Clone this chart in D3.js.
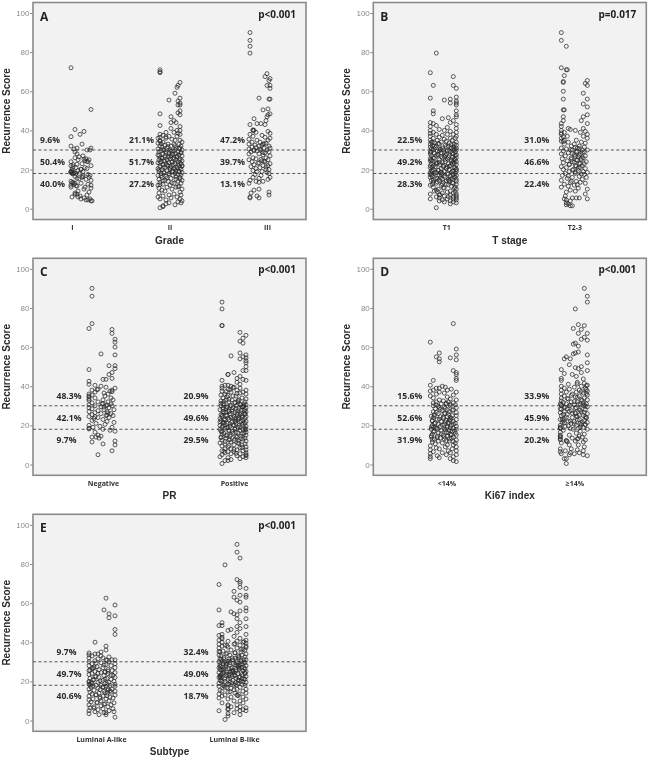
<!DOCTYPE html>
<html>
<head>
<meta charset="utf-8">
<script src="https://cdn.jsdelivr.net/npm/d3@7"></script>
<style>
  html, body { margin: 0; padding: 0; background: #fff; }
  svg { display: block; filter: blur(0.35px); }
  .frame { fill: #f2f2f2; stroke: #8a8a8a; stroke-width: 1.6; }
  .cutoff { stroke: #555; stroke-width: 1; stroke-dasharray: 3 2.4; }
  .dot { fill: none; stroke: #2a2a2a; stroke-width: 0.95; stroke-opacity: 0.8; }
  .yaxis text { font: 8px "Liberation Sans", sans-serif; fill: #8a8a8a; }
  .yaxis line { stroke: #8a8a8a; }
  .yaxis path { display: none; }
  .xaxis text { font: bold 7px "Open Sans", sans-serif; fill: #333; }
  .xaxis line, .xaxis path { display: none; }
  .title { font: bold 10px "Liberation Sans", sans-serif; fill: #2a2a2a; text-anchor: middle; }
  .pct { font: bold 8.6px "Open Sans", sans-serif; fill: #2a2a2a; }
  .letter { font: bold 12px "Open Sans", sans-serif; fill: #222; }
  .pval { font: bold 10px "Open Sans", sans-serif; fill: #222; text-anchor: end; }
</style>
</head>
<body>
<svg id="chart" width="650" height="762"></svg>
<script>
// values, dense parts are estimates
const gradeIScores = [72,50.7,40.5,39.5,38,36.8,32,31,33,30.5,30,30,31,29,28,27,26.5,26,25.5,25,
  25,24.5,24,24,23,22.5,22,22,21,21,20.5,20,20,19.5,19,19,18.5,18.5,18,18,
  18,17.5,17,17,16.5,16,16,15.5,15,14.5,14,13.5,13,13,12.5,12,12,11.5,11,11,
  10.5,10,9,8.5,8,7.5,7,6.5,6,6,5.5,5,5,4.5,4.5,4,4,
  25.3,24.2,22.7,21.4,20.2,19.2,18.3,18.7,17.8,16.3,15.2,13.2,12.4,11.8,7.3];
const gradeIJitter = [-9,11,-5,4,0,-9,-9,-3,2,-6,10,7,11,-5,-3,3,-1,-5,6,9,
  -2,5,-9,8,2,-7,-9,11,-4,5,7,-8,1,-2,-9,3,-9,-6,-8,-4,
  -1,8,10,3,-5,2,9,-3,6,11,-9,-7,-5,1,8,-9,11,-3,-9,5,
  11,4,-2,9,-5,-3,7,0,-8,-2,4,1,10,6,8,11,12,
  4,7,-3,-7,1,-8,-6,-9,-7,3,-1,-8,-6,-4,-5];

const gradeIIScores = [71,70,69.5,64.5,63,62,59,56.5,55.5,55,54,53,53,50,49,48.5,48,47,45,44,
  44,42.5,42,41,40,40,39,39,38.5,38,38,37.5,37,37,36.5,36,36,35.5,35,35,
  34.5,34,34,33.5,33,33,33,32.5,32,32,32,31.5,31,31,31,30.5,30,30,30,30,
  29.5,29.5,29,29,29,28.5,28.5,28,28,28,27.5,27.5,27,27,27,26.5,26.5,26,26,26,
  25.5,25.5,25,25,25,24.5,24.5,24,24,24,23.5,23.5,23,23,23,22.5,22.5,22,22,22,
  21.5,21.5,21,21,21,20.5,20.5,20,20,20,19.5,19.5,19,19,19,18.5,18.5,18,18,18,
  17.5,17,17,16.5,16,16,15.5,15,15,14.5,14.5,14,14,13.5,13,13,12.5,12,12,11.5,
  11,11,10.5,10,10,9.5,9,8.5,8,7.5,7,7,6.5,6,6,5.5,5,5,4.5,4,
  3.5,3,3,2.5,2,1.5,1,0.5,
  33.3,32.2,31.7,30.8,30.2,29.3,28.8,28.2,27.7,27.2,26.8,26.3,25.8,25.2,24.8,24.3,23.8,23.2,22.8,22.3,
  21.8,21.2,20.8,20.3,19.8,19.2,18.8,18.3,17.8,17.3,16.8,16.3,15.7,15.2,14.2,13.2,12.3,11.2,36.7,34.7];
const gradeIIJitter = [-10,-10,-10,10,8,7,5,10,-1,8,10,8,10,10,8,-10,10,1,4,1,
  6,-10,10,1,7,10,-4,4,8,-10,10,-7,-1,7,-10,-4,-12,2,5,10,
  -10,-7,12,-12,-2,4,9,-5,-10,1,11,-8,-3,6,10,-12,-6,0,5,12,
  -9,3,-11,-4,8,-1,11,-7,2,6,-12,9,-5,1,12,-2,7,-10,4,-8,
  0,10,-11,-3,6,-6,12,2,-9,8,-1,-12,5,11,-4,3,-7,9,-2,12,
  -10,1,-5,7,10,-12,4,-8,0,11,-3,6,-11,2,9,-6,12,-1,-9,5,
  8,-12,3,-4,10,-8,1,-11,6,12,-5,-2,8,-10,4,11,-7,0,-12,9,
  -3,6,-11,2,12,-8,-5,10,-11,4,-1,11,-7,-12,7,1,-10,10,-4,12,
  8,-1,11,-4,5,-7,-7,-10,
  -9,5,-2,9,-7,1,11,-4,3,-11,7,-1,-8,4,10,-5,2,-10,8,-3,
  12,-7,0,5,-11,3,9,-6,-1,11,-9,6,-3,10,-7,2,-10,8,-4,-10];

const gradeIIIScores = [90,86,83,79.5,69,67.5,66.5,65.5,63,63,61.5,56.5,56,56,51,50.5,48.5,48,47,46,
  45,43,43.5,43.5,43,40,40,39.5,39,38.5,38,37.5,37,36.5,36,35.5,35,35,34,34,
  33.5,33,33,32.5,32,32,31.5,31,31,30.5,30,30,30,29.5,29,29,28.5,28,28,27.5,
  27,26,26,25.5,25,25,24.5,24,24,23.5,23,22.5,22,22,21.5,21,20.5,20,20,19.5,
  19,19,18.5,18,17.5,17,16,16,15.5,15,14.5,14,14,13.5,13,10,9.5,8.5,8,7,
  6.5,6,5.5,5.5,
  32.4,31.2,30.4,29.7,28.7,25.2,24.3,23.2,21.3,40.3,33.2];
const gradeIIIJitter = [-10,-10,-10,-10,7,5,10,9,7,10,10,-1,9,10,8,3,10,8,7,-6,
  6,-10,-3,1,5,-6,-7,8,-4,10,-10,2,-7,5,10,-11,-3,8,-8,0,
  6,-11,3,-5,9,-1,-8,4,10,-11,-6,1,7,-3,-9,9,5,-11,-1,3,
  10,-7,6,-4,-11,8,2,-8,5,-1,10,-6,3,8,-9,0,-4,6,9,-7,
  2,-3,7,9,-5,1,10,-7,-1,8,-10,-4,3,-1,-11,-1,-6,9,-9,9,
  -3,-10,-10,-1,
  2,-4,0,-6,3,1,4,-2,6,-7,4];

const t1Scores = [79.5,69.5,67.5,63,63,61.5,57,56.5,56,55.5,55,54,54,53,50,50,48.5,48,47,46.5,
  46,45,44,44,43.5,43,42.5,42,41.5,41,40.5,40,40,39.5,39,39,38.5,38,38,38,
  37.5,37,37,36.5,36,36,36,35.5,35,35,35,34.5,34,34,34,34,33.5,33,33,33,
  32.5,32.5,32,32,32,31.5,31.5,31,31,31,30.5,30.5,30,30,30,30,29.5,29.5,29,29,
  29,28.5,28.5,28,28,28,27.5,27.5,27,27,27,26.5,26.5,26,26,26,25.5,25.5,25,25,
  25,24.5,24.5,24,24,24,23.5,23.5,23,23,23,22.5,22.5,22,22,22,21.5,21.5,21,21,
  21,20.5,20.5,20,20,20,19.5,19.5,19,19,19,18.5,18.5,18.5,18,18,18,18,17.5,17.5,
  17,17,16.5,16.5,16,16,16,15.5,15.5,15,15,15,14.5,14.5,14,14,13.5,13.5,13,13,
  12.5,12.5,12,12,11.5,11,11,10.5,10.5,10,10,9.5,9,9,8.5,8.5,8,8,7.5,7.5,
  7,7,6.5,6.5,6,6,5.5,5.5,5,5,5,4.5,4.5,4,4,3.5,3.5,3,2.5,0.5,
  33.3,32.8,32.2,31.7,31.2,30.7,30.2,29.8,29.2,28.7,28.2,27.8,27.2,26.7,26.2,25.7,25.2,24.8,24.2,23.7,
  23.2,22.8,22.2,21.7,21.2,20.7,20.2,19.7,19.2,18.7,18.2,17.7,17.2,16.7,16.2,15.7,15.2,14.7,14.2,13.7,
  13.2,12.7,12.2,33.7,30.9,29.4,27.4,25.4,23.4,21.4,19.4,18.4,17.4,15.4,14.4,12.4,10.7,8.7,7.2,6.2];
const t1Jitter = [-7,-13,10,-10,10,13,13,-13,7,1,13,7,13,13,-10,13,-10,13,13,5,
  -1,10,7,-13,-10,13,-7,-13,4,13,-4,-13,1,7,-10,13,-13,-7,4,10,
  -1,-13,13,-4,-10,7,12,1,-13,-6,9,3,-11,-2,13,-12,6,-4,11,-13,
  2,13,-7,5,-9,10,-13,-1,8,13,-3,-12,0,11,-10,13,4,-6,-13,7,
  12,-2,-9,10,-13,3,13,-5,6,-12,-7,1,9,-10,13,-1,-13,4,-4,12,
  8,-13,-11,10,2,13,-6,-1,-12,5,9,-3,13,7,-13,-10,0,-8,12,11,
  -13,3,-2,6,13,-10,-12,-5,10,1,13,-7,-13,8,-1,-9,4,12,-13,10,
  -4,13,7,-11,2,-13,12,-6,9,5,-1,13,-12,-4,6,13,-10,0,10,-7,
  13,3,-2,-13,8,-10,12,1,11,-5,13,-7,7,-9,4,12,-1,10,-13,13,
  -4,7,1,13,-7,10,-4,13,-13,4,10,-1,13,7,-4,10,1,13,7,-7,
  -5,8,-11,3,-8,11,-3,6,-12,1,9,-6,12,-2,5,-9,2,-12,8,-4,
  11,-7,0,6,-11,3,13,-5,9,-2,-8,5,-12,1,11,-3,7,-10,3,-6,
  9,-1,5,-9,8,-4,2,11,-7,4,-11,-3,-2,-8,6,-11,0,-6,-3,5];

const t23Scores = [90,86,83,72,71,71,68,65.5,65,64.5,64,63,60,59,56,56,53.5,52,50.5,50.5,
  48,47,47,45,45,43.5,43.5,42,41,41,40.5,40,40,39.5,39,39,38,38,37,37,
  36,36,35,35,34.5,34,34,33.5,33,33,32,32,31.5,31,31,30.5,30,30,30,29.5,
  29,29,28.5,28,28,27.5,27,27,26.5,26,26,25.5,25,25,24.5,24,24,23.5,23,23,
  22.5,22,22,21.5,21,21,20.5,20,20,19.5,19,19,18.5,18,18,17.5,17,16.5,16,16,
  15.5,15,14.5,14,14,13.5,13,12.5,12,11.5,11,10.5,10,9.5,9,8.5,7.5,6.5,5.5,5.5,
  5.5,5,5,4.5,4,3,2.5,2,1.5,1.5,
  31.3,30.7,30.2,29.3,28.7,28.2,27.3,26.7,25.7,25.2,24.7,23.7,23.2,22.7,21.7,20.7,19.7,18.7,17.7,16.7,
  34.3,36.7,38.7,13.3,12.3];
const t23Jitter = [-12,-12,-7,-12,-7,-6,-9,14,-10,-10,12,14,-10,10,-10,14,10,14,-10,-9,
  14,10,-10,-10,8,-12,14,-12,-5,10,-3,-12,2,12,-9,7,-12,14,-6,10,
  -12,14,-9,3,-12,8,-5,12,-9,1,6,-2,11,-12,4,-7,9,-1,14,-10,
  3,11,-5,7,-12,1,12,-8,5,-2,10,-11,3,8,-6,13,-1,-10,6,11,
  -4,2,9,-12,7,-7,12,0,-10,5,10,-4,14,-8,2,11,-11,6,-1,13,
  -6,9,-12,3,-2,7,12,-9,1,-5,-12,5,14,-3,2,-7,12,-8,-1,3,
  6,14,-9,-7,-3,-7,-5,-7,-3,-1,
  2,6,-3,4,9,-1,6,2,8,-2,4,1,7,-4,3,5,-1,2,8,-5,
  -10,-10,-12,-3,4];

const negScores = [90,86,72,69.5,69,67,64,62.5,60,56.5,56,50.5,50.5,49,48.5,47,46,43.5,43.5,44,
  42.5,41,39,38,40.5,40,39.5,38.5,38,37.5,37,36.5,36,36,35.5,35,35,34.5,34,34,
  33.5,33,33,32,32,31.5,31,31,30.5,30,30,30,29.5,29,29,28.5,28,28,27.5,27,
  27,26.5,26,26,25.5,25,25,24.5,24,24,23.5,23,22.5,22,21.5,21,20.5,20,19.5,19,
  19,18.5,18,17.5,17,16.5,15,14.5,14,14,13.5,12,11.5,10.5,10,7,5,
  31.2,30.4,29.3,26.3,25.3,38.2,37.2,24.4,18.2,32.7];
const negJitter = [-10,-10,-10,-13,10,10,13,13,13,-1,13,7,13,13,-13,10,7,4,1,10,
  -13,-13,13,10,-7,-1,4,-4,-10,8,-7,2,-13,6,-10,-13,3,-13,-7,9,
  -13,1,11,-4,6,-10,0,9,-13,-7,4,10,-1,-13,7,-10,2,12,-4,-13,
  5,-7,9,-1,-10,4,11,-13,-4,7,-8,1,-10,5,12,-6,3,-13,-2,10,
  -9,-13,1,8,13,-7,-4,-1,-10,-6,-3,13,-10,1,13,10,-4,
  1,5,2,6,5,-5,10,-7,-13,-13];

const posScores = [83,79.5,71,71,67.5,66,64.5,63,62,57,56,55.5,55,54.5,54,53,52,50,48,48,
  47,46,46,45,44,43.5,43,43,42,41,40.5,40.5,40,40,39.5,39,39,38.5,38,38,
  37.5,37,37,36.5,36,36,35.5,35,35,34.5,34,34,33.5,33,33,33,32.5,32,32,32,
  31.5,31,31,31,30.5,30.5,30,30,30,29.5,29.5,29,29,29,28.5,28.5,28,28,28,27.5,
  27.5,27,27,27,26.5,26.5,26,26,26,25.5,25.5,25,25,25,24.5,24.5,24,24,24,23.5,
  23.5,23,23,23,22.5,22.5,22,22,22,21.5,21.5,21,21,21,20.5,20.5,20,20,20,19.5,
  19.5,19,19,19,18.5,18.5,18,18,18,18,17.5,17.5,17,17,16.5,16.5,16,16,16,15.5,
  15,15,14.5,14.5,14,14,13.5,13.5,13,13,12.5,12.5,12,12,11.5,11,11,10.5,10.5,10,
  10,9.5,9,9,8.5,8,8,7.5,7.5,7,7,6.5,6.5,6,6,5.5,5.5,5,5,4.5,
  4.5,4,4,3.5,3.5,3,2.5,2,2,0.5,
  33.3,32.7,32.2,31.7,31.2,30.8,30.2,29.8,29.2,28.7,28.2,27.7,27.2,26.8,26.2,25.7,25.2,24.7,24.2,23.7,
  23.2,22.7,22.2,21.7,21.2,20.7,20.2,19.7,19.2,18.7,18.2,17.7,17.2,16.7,16.2,15.7,15.2,14.7,14.2,13.7,
  13.2,12.7,12.2,11.7,10.7,9.7,8.7,7.7,6.7,5.7,35.3,36.3,37.2,38.2,39.2,29.4,27.4,25.4,23.4,21.4];
const posJitter = [-11,-11,-11,-11,7,13,10,7,10,7,13,-2,10,13,7,13,13,13,13,10,
  1,-5,-5,7,4,10,-11,13,4,7,-8,-5,-11,-2,1,-11,7,-5,13,4,
  -11,-2,10,7,-8,13,-12,0,3,-6,9,-10,13,-7,-1,6,-12,5,12,-4,
  2,-10,11,-9,8,13,-3,-12,3,9,-6,13,-10,0,-7,6,12,-1,-13,5,
  11,-4,13,-10,-9,2,8,-3,12,-12,4,-6,9,-7,13,-11,0,6,-2,-13,
  12,5,-4,-9,10,-12,2,13,8,-1,-10,3,-6,12,-8,9,-13,1,6,13,
  -3,-11,-5,5,12,-8,10,-13,2,13,7,-4,-1,-12,13,3,-9,11,0,-11,
  13,-6,8,-3,-12,4,12,-7,10,2,-11,-4,13,6,-2,-13,5,-8,12,9,
  1,-11,-5,13,7,-2,-8,13,4,-11,10,-5,1,13,-8,7,-2,13,-11,4,
  13,10,-13,13,-5,7,-2,-8,-5,-11,
  -4,5,-9,2,-12,7,-2,11,-6,3,-10,8,-1,-7,4,12,-11,1,9,-5,
  6,-8,3,-13,10,-3,0,-10,7,-6,2,12,-4,-11,5,9,-2,-7,3,-12,
  8,-3,1,-8,6,-4,9,1,-9,3,-5,4,-7,-3,0,10,-4,7,2,-9];

const lowKiScores = [72,62.5,59,57,56,55,54.5,54,53.5,52.5,48,47,46,44,43,43,40.5,40,39.5,39,
  39,38.5,38,38,37.5,37,37,36.5,36,35.5,35,34.5,34,33.5,33,33,32.5,32,32,31.5,
  31.5,31,31,30.5,30.5,30,30,29.5,29,29,28.5,28,28,27.5,27,27,26.5,26,26,25.5,
  25,25,24.5,24.5,24,24,23.5,23,23,22.5,22.5,22,22,21.5,21,21,20.5,20.5,20,20,
  19.5,19.5,19,19,18.5,18.5,18,18,18,17.5,17.5,17,17,16.5,16,16,15.5,15.5,15,15,
  14.5,14.5,14,14,13.5,13.5,13,13,12.5,12,12,11.5,11,11,10.5,10,10,9.5,9,9,
  8.5,8,8,7.5,7,7,6.5,6,6,5.5,5,5,4.5,4,4,3.5,3,3,2,1.5,
  31.3,30.7,29.7,28.7,27.7,26.7,25.7,24.7,24.2,23.7,23.2,22.7,22.2,21.7,21.2,20.7,20.2,19.7,19.2,18.7,
  18.2,17.7,17.2,16.7,16.2,15.7,15.2,14.7,14.2,13.7,13.2,12.7,12.2,11.7,28.2,26.2,24.9,22.9,20.9,18.9];
const lowKiJitter = [10,-13,13,-4,13,-7,7,-4,13,-4,10,13,13,13,13,-10,-13,-1,2,-4,
  -7,8,-10,4,-13,-4,13,1,-7,10,-13,4,-10,7,-4,13,0,-7,5,-10,
  10,-2,3,-7,12,-10,7,1,-4,13,-8,4,10,-1,-10,6,13,-5,2,-9,
  9,13,-3,4,-10,7,0,13,-6,3,-11,10,-2,5,-9,12,1,-5,8,-11,
  13,-3,4,-10,10,-7,1,13,-12,6,-2,-9,9,3,-5,12,-11,7,0,13,
  -6,4,-12,10,-3,8,-9,1,13,-5,6,-11,12,-1,-8,4,10,-13,2,13,
  -7,9,-4,-13,5,13,-10,-1,7,-13,3,13,-6,-13,10,-4,-13,7,10,13,
  3,7,-5,2,9,-7,5,-12,0,8,-4,6,-11,2,-8,10,-1,4,-12,7,
  -6,2,11,-10,5,-2,8,-12,1,-6,6,-11,3,10,-3,1,-9,7,5,-8];

const highKiScores = [90,86,83,79.5,71.5,71,69.5,69,67,67,65,64,63.5,62,61.5,60.5,57.5,57,56.5,56,
  55,54,54,52,51,50,49.5,49,48.5,48,47,46.5,46,45,44,43,42,41.5,41,40.5,
  40,40,39.5,39,39,38.5,38,38,37.5,37,37,36.5,36,36,35.5,35,35,34.5,34,34,
  33.5,33,33,32.5,32,32,31.5,31,31,31,30.5,30.5,30,30,30,29.5,29,29,28.5,28,
  28,27.5,27,27,26.5,26,26,25.5,25,25,24.5,24,24,23.5,23,23,22.5,22,22,21.5,
  21.5,21,21,20.5,20,20,19.5,19,19,18.5,18.5,18,18,17.5,17,16.5,16,15.5,15,15,
  14.5,14,14,13.5,13,13,12.5,12,12,11.5,11,10,10,9,8,8,7.5,7,7,6.5,
  6,6,5.5,5.5,5,5,4.5,3,3,0.5,
  34.3,33.7,32.7,32.2,31.7,30.8,30.2,29.8,29.3,28.7,28.2,27.7,27.2,26.7,26.2,25.7,25.2,24.7,24.2,23.7,
  23.2,22.7,22.2,21.7,21.2,20.7,20.2,19.7,19.2,18.7,38.3,37.3,36.3,35.3,14.3,13.3,12.3,30.4,28.4,26.4,
  24.4,22.4,20.4,18.4,40.3,41.2,43.7,12.7,11.7,30.6];
const highKiJitter = [11,14,14,2,5,11,0,8,14,5,11,8,14,2,0,5,5,2,0,14,
  -7,-9,-3,14,-4,8,2,5,-12,14,8,-9,-1,3,-12,-12,4,11,-5,14,
  -12,8,1,-9,12,-4,-12,6,14,-7,3,10,-12,-1,14,-9,6,2,-12,11,
  -5,8,14,-12,-2,4,10,-13,-7,13,1,7,-12,-4,10,14,-9,3,-13,6,
  12,-2,-9,8,-13,2,14,-6,10,-12,4,-1,13,-9,6,-13,11,1,-5,14,
  -11,7,-2,12,-13,3,-8,10,-13,5,-13,14,0,-10,7,-13,3,11,-4,-13,
  6,-13,9,-1,-13,4,12,-7,2,10,-12,5,-4,11,-13,-2,4,10,-8,-13,
  -3,6,-12,1,10,-4,14,-9,-7,-7,
  4,-6,9,1,-10,5,-3,12,-8,2,-12,7,-4,11,-1,-10,6,3,-7,13,
  -11,4,-3,9,-9,1,12,-5,7,-13,13,8,13,-2,-13,5,-7,11,-6,2,
  12,-10,8,-3,13,4,10,-13,-6,-12];

const lumAScores = [62.5,59,56.5,54.5,53.5,52.5,46.5,44,40,38,36,35,34.5,34,34,33.5,33,33,32.5,32,
  32,31.5,31,31,31,30.5,30,30,29.5,29,29,28.5,28,28,27.5,27,27,26.5,26,26,
  25.5,25.5,25,25,24.5,24.5,24,24,23.5,23,23,22.5,22,22,21.5,21.5,21,21,20.5,20,
  20,19.5,19.5,19,19,18.5,18.5,18,18,18,17.5,17.5,17,17,16.5,16,16,15.5,15.5,15,
  15,14.5,14.5,14,14,13.5,13,13,12.5,12.5,12,12,11.5,11,11,10.5,10,10,9.5,9,
  9,8.5,8,8,7.5,7,7,6.5,6,6,5.5,5,5,4.5,4.5,4,4,3.5,3,3,1.7,
  30.7,29.3,28.3,26.7,25.2,24.2,23.2,22.3,21.2,20.3,19.2,18.7,18.2,17.7,17.2,16.2,15.7,15.2,14.2,13.2,
  19.7,20.7,24.7,25.7,27.3,12.7,11.3,9.3,8.3,6.3];
const lumAJitter = [4,13,2,7,13,7,13,13,-7,4,4,-1,-13,-7,-4,-13,-10,-1,7,-13,
  1,-4,4,10,13,-7,-13,7,-1,13,-10,4,-13,9,-5,1,13,-10,-3,6,
  -13,10,-7,3,13,-1,-10,6,-13,2,11,-6,13,-3,-12,5,9,-8,1,-13,
  12,-4,7,-10,3,13,-13,-1,8,-6,4,13,-11,1,-4,10,-13,6,-8,13,
  2,-12,9,-3,5,-10,13,-6,1,-13,8,-2,11,-9,4,-13,7,-1,-11,12,
  -5,3,-13,9,-1,-8,6,-12,11,1,-4,-13,7,12,-7,2,4,-13,-3,4,13,
  5,-6,2,-9,6,-4,9,-7,3,-2,-11,5,-12,-9,1,6,-2,8,3,-6,
  -13,-9,3,-12,-8,5,-2,-5,2,-8];

const lumBScores = [90,86,83,79.5,72,71,70,69.5,68,67.5,66,64,64,63,63,61.5,60.5,57.5,56.5,56,
  56,55.5,54.5,54,52,52,50,50,48.5,48.5,48,48,47,46.5,46,45,44,44,43.5,43,
  42.5,42,41,41,40.5,40.5,40,40,39.5,39,39,38.5,38.5,38,38,37.5,37,37,36.5,36,
  36,35.5,35,35,34.5,34.5,34,34,33.5,33.5,33,33,32.5,32,32,31.5,31.5,31,31,31,
  30.5,30.5,30,30,30,29.5,29.5,29,29,29,28.5,28.5,28,28,28,27.5,27.5,27,27,27,
  26.5,26.5,26,26,26,25.5,25.5,25,25,25,24.5,24.5,24,24,24,23.5,23.5,23,23,23,
  22.5,22.5,22,22,22,21.5,21.5,21,21,20.5,20.5,20,20,20,19.5,19.5,19,19,18.5,18.5,
  18,18,18,17.5,17,17,16.5,16,16,15.5,15,15,14.5,14,14,13.5,13.5,13,13,12.5,
  12,12,11.5,11,11,10,10,9,9,8,8,7.5,7,7,6.5,6,6,5.5,5.5,5,
  5,5,4,3.5,3,2.3,0.5,
  33.3,32.7,32.2,31.7,31.2,30.8,30.2,29.8,29.2,28.7,28.2,27.7,27.2,26.7,26.2,25.7,25.2,24.7,24.2,23.7,
  23.2,22.7,22.2,21.7,21.2,20.7,20.2,19.7,19.2,18.7,18.2,17.7,35.3,36.3,37.3,38.3,39.3,40.3,30.4,28.4,
  26.4,24.4,22.4,20.4,29.4,27.4,25.4,23.4,21.4,19.4,16.7,15.7,14.7,12.7,41.7,34.7,31.4,26.9,24.9,22.9];
const lumBJitter = [4,4,7,-8,4,7,7,-14,7,13,1,13,7,13,1,4,7,13,-14,13,
  7,-2,1,4,4,13,-11,7,-14,-11,13,4,7,-2,-5,4,-11,13,-14,1,
  -11,7,13,-14,-5,4,-11,10,13,-14,1,-8,7,-11,13,-5,-14,4,10,-2,
  12,-10,-13,8,-6,2,13,-7,-14,9,5,-12,12,-1,6,-13,-4,11,0,13,
  -11,3,-14,-9,8,12,-3,-10,9,-6,-13,2,5,13,-7,-12,6,-14,11,-1,
  12,-4,-11,3,-13,0,10,13,-9,-3,-14,8,-10,5,12,-6,9,-13,2,-7,
  13,-1,-12,6,-14,3,11,-5,12,0,-13,-8,-11,8,13,-3,5,-14,9,-4,
  -10,12,1,-14,7,-8,-2,13,4,-13,-11,10,-5,2,13,-14,6,-8,4,-11,
  10,-2,-14,13,-5,1,7,-11,10,-5,4,-5,7,-2,13,-5,4,10,-5,13,
  -14,7,1,-5,7,-5,-8,
  -3,6,-9,2,-12,8,-5,11,0,-7,4,-13,9,-2,6,-10,3,-6,12,-4,
  1,-11,7,-3,-8,5,-12,10,-1,-5,3,-9,-14,8,13,-6,2,11,-4,7,
  -9,1,-13,6,4,-7,-1,-12,9,3,-6,1,-3,5,-11,2,-9,6,0,-4];

const gradeCats = ['I', 'II', 'III'];
const tStageCats = ['T1', 'T2-3'];
const prCats = ['Negative', 'Positive'];
const kiCats = ['<14%', '≥14%'];
const subtypeCats = ['Luminal A-like', 'Luminal B-like'];

const gradePct = [['9.6%', '50.4%', '40.0%'], ['21.1%', '51.7%', '27.2%'], ['47.2%', '39.7%', '13.1%']];
const tStagePct = [['22.5%', '49.2%', '28.3%'], ['31.0%', '46.6%', '22.4%']];
const prPct = [['48.3%', '42.1%', '9.7%'], ['20.9%', '49.6%', '29.5%']];
const kiPct = [['15.6%', '52.6%', '31.9%'], ['33.9%', '45.9%', '20.2%']];
const subtypePct = [['9.7%', '49.7%', '40.6%'], ['32.4%', '49.0%', '18.7%']];

const cutoffs = [18, 30];
const pctLevels = [35, 24, 12.6];
const yTicks = [0, 20, 40, 60, 80, 100];

const panels = [
  { letter: 'A', x: 33, y: 2.5, title: 'Grade', p: 'p<0.001', cats: gradeCats, pct: gradePct,
    scores: [gradeIScores, gradeIIScores, gradeIIIScores], jitter: [gradeIJitter, gradeIIJitter, gradeIIIJitter],
    markRange: [47, 227], tickRange: [39, 234], pctX: [7, 96, 187] },
  { letter: 'B', x: 373.3, y: 2.5, title: 'T stage', p: 'p=0.017', cats: tStageCats, pct: tStagePct,
    scores: [t1Scores, t23Scores], jitter: [t1Jitter, t23Jitter],
    markRange: [70, 200], tickRange: [73, 201], pctX: [24, 151] },
  { letter: 'C', x: 33, y: 258.3, title: 'PR', p: 'p<0.001', cats: prCats, pct: prPct,
    scores: [negScores, posScores], jitter: [negJitter, posJitter],
    markRange: [69, 200], tickRange: [70, 201], pctX: [23.5, 150.5] },
  { letter: 'D', x: 373.3, y: 258.3, title: 'Ki67 index', p: 'p<0.001', cats: kiCats, pct: kiPct,
    scores: [lowKiScores, highKiScores], jitter: [lowKiJitter, highKiJitter],
    markRange: [70, 200], tickRange: [73, 201], pctX: [24, 151] },
  { letter: 'E', x: 33, y: 514.3, title: 'Subtype', p: 'p<0.001', cats: subtypeCats, pct: subtypePct,
    scores: [lumAScores, lumBScores], jitter: [lumAJitter, lumBJitter],
    markRange: [69, 200], tickRange: [68, 201], pctX: [23.5, 150.5] }
];

const width = 273, height = 217;
const svg = d3.select('#chart');

const y = d3.scaleLinear().domain([0, 100]).range([206.2, 10.5]);
const jitterScale = d3.scaleLinear().domain([-15, 15]).range([-15, 15]);

panels.forEach(function (d) {
  const g = svg.append('g').attr('transform', `translate(${d.x},${d.y})`);
  const xMark = d3.scalePoint().domain(d.cats).range(d.markRange);
  const xTick = d3.scalePoint().domain(d.cats).range(d.tickRange);

  g.append('rect').attr('class', 'frame').attr('width', width).attr('height', height);

  g.append('g')
    .attr('class', 'yaxis')
    .call(d3.axisLeft(y).tickValues(yTicks).tickSize(3).tickPadding(0.5));

  g.append('g')
    .attr('class', 'xaxis')
    .attr('transform', `translate(0,${height})`)
    .call(d3.axisBottom(xTick).tickSize(0).tickPadding(6));

  g.selectAll('.cutoff')
    .data(cutoffs)
    .enter()
    .append('line')
    .attr('class', 'cutoff')
    .attr('x1', 0)
    .attr('x2', width)
    .attr('y1', y)
    .attr('y2', y);

  d.cats.forEach(function (cat, i) {
    g.append('g')
      .selectAll('circle')
      .data(d3.zip(d.scores[i], d.jitter[i]))
      .enter()
      .append('circle')
      .attr('class', 'dot')
      .attr('r', 2)
      .attr('cx', function (p) { return xMark(cat) + jitterScale(p[1]); })
      .attr('cy', function (p) { return y(p[0]); });

    g.append('g')
      .selectAll('text')
      .data(d.pct[i])
      .enter()
      .append('text')
      .attr('class', 'pct')
      .attr('x', d.pctX[i])
      .attr('y', function (t, k) { return y(pctLevels[k]); })
      .attr('dy', '0.35em')
      .text(function (t) { return t; });
  });

  g.append('text').attr('class', 'letter').attr('x', 7).attr('y', 18).text(d.letter);
  g.append('text').attr('class', 'pval').attr('x', 263).attr('y', 15).text(d.p);

  g.append('text')
    .attr('class', 'title')
    .attr('x', width / 2)
    .attr('y', height + 24)
    .text(d.title);

  g.append('text')
    .attr('class', 'title')
    .attr('transform', `translate(-23,${height / 2}) rotate(-90)`)
    .text('Recurrence Score');
});
</script>
</body>
</html>
